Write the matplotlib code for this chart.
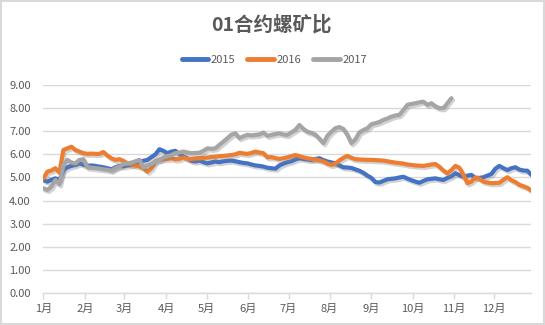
import matplotlib
matplotlib.use("Agg")
import matplotlib.pyplot as plt
import matplotlib.patheffects as pe

plt.rcParams['font.family'] = ['Noto Sans CJK SC', 'DejaVu Sans']

title = "01合约螺矿比"
series_names = ["2015", "2016", "2017"]
month_labels = ["1月", "2月", "3月", "4月", "5月", "6月", "7月", "8月", "9月", "10月", "11月", "12月"]
# month starts, in units of sampled trading points
month_pos = [0, 10.45, 20.25, 30.68, 40.85, 51.1, 61.28, 71.53, 81.95, 92.3, 102.55, 112.73]
x_end = 121.85

ratio_2015 = [
    4.89, 4.82, 4.90, 4.96, 4.89, 5.32, 5.44, 5.50, 5.54, 5.61,
    5.55, 5.50, 5.52, 5.50, 5.47, 5.44, 5.40, 5.35, 5.44, 5.50,
    5.48, 5.52, 5.54, 5.58, 5.69, 5.72, 5.76, 5.88, 6.00, 6.22,
    6.15, 6.05, 6.12, 6.15, 6.02, 5.90, 5.83, 5.72, 5.69, 5.73,
    5.66, 5.61, 5.65, 5.69, 5.66, 5.70, 5.72, 5.73, 5.70, 5.66,
    5.63, 5.61, 5.56, 5.52, 5.50, 5.47, 5.42, 5.40, 5.38, 5.52,
    5.60, 5.66, 5.70, 5.78, 5.83, 5.80, 5.78, 5.76, 5.80, 5.83,
    5.75, 5.69, 5.65, 5.61, 5.52, 5.44, 5.43, 5.41, 5.35, 5.29,
    5.20, 5.08, 4.98, 4.80, 4.78, 4.85, 4.92, 4.94, 4.96, 5.00,
    5.03, 4.95, 4.88, 4.82, 4.77, 4.85, 4.92, 4.94, 4.96, 4.92,
    4.89, 4.98, 5.05, 5.18, 5.10, 5.03, 5.08, 5.11, 4.98, 4.98,
    5.01, 5.08, 5.15, 5.38, 5.50, 5.40, 5.32, 5.40, 5.44, 5.34,
    5.30, 5.29, 5.11,
]

ratio_2016 = [
    4.96, 5.25, 5.30, 5.40, 5.21, 6.19, 6.26, 6.33, 6.19, 6.12,
    6.05, 6.02, 6.03, 6.02, 6.02, 6.10, 5.95, 5.83, 5.76, 5.79,
    5.72, 5.61, 5.55, 5.52, 5.47, 5.40, 5.25, 5.40, 5.70, 5.76,
    5.79, 5.80, 5.83, 5.78, 5.80, 5.87, 5.80, 5.79, 5.82, 5.83,
    5.85, 5.86, 5.88, 5.90, 5.92, 5.93, 5.95, 5.97, 6.00, 6.07,
    6.04, 6.02, 6.06, 6.12, 6.08, 6.05, 5.87, 5.88, 5.84, 5.80,
    5.83, 5.87, 5.92, 5.97, 5.92, 5.87, 5.83, 5.80, 5.78, 5.74,
    5.69, 5.60, 5.54, 5.60, 5.74, 5.85, 5.93, 5.85, 5.79, 5.78,
    5.77, 5.76, 5.76, 5.75, 5.74, 5.73, 5.70, 5.67, 5.64, 5.62,
    5.60, 5.56, 5.54, 5.52, 5.51, 5.50, 5.53, 5.56, 5.58, 5.46,
    5.30, 5.18, 5.32, 5.50, 5.42, 5.11, 4.75, 4.82, 5.00, 4.95,
    4.82, 4.78, 4.75, 4.76, 4.77, 4.90, 5.01, 4.88, 4.80, 4.68,
    4.62, 4.55, 4.43,
]

ratio_2017 = [
    4.53, 4.46, 4.60, 4.89, 4.70, 5.54, 5.76, 5.65, 5.61, 5.76,
    5.79, 5.44, 5.42, 5.40, 5.38, 5.35, 5.33, 5.29, 5.40, 5.47,
    5.58, 5.61, 5.64, 5.70, 5.76, 5.44, 5.52, 5.58, 5.70, 5.76,
    5.87, 5.92, 5.97, 6.05, 6.08, 6.12, 6.08, 6.05, 6.06, 6.07,
    6.15, 6.26, 6.24, 6.26, 6.41, 6.55, 6.70, 6.85, 6.91, 6.70,
    6.78, 6.84, 6.82, 6.84, 6.86, 6.94, 6.80, 6.84, 6.88, 6.91,
    6.86, 6.84, 6.95, 7.06, 7.27, 7.10, 6.98, 6.93, 6.85, 6.68,
    6.48, 6.80, 6.98, 7.13, 7.18, 7.10, 6.84, 6.48, 6.65, 6.95,
    7.05, 7.13, 7.30, 7.35, 7.40, 7.49, 7.55, 7.63, 7.68, 7.71,
    7.92, 8.14, 8.18, 8.21, 8.25, 8.28, 8.14, 8.21, 8.08, 8.00,
    8.00, 8.21, 8.43,
]

colors = ["#4472C4", "#ED7D31", "#A5A5A5"]
text_color = "#595959"
grid_color = "#D9D9D9"

fig = plt.figure(figsize=(5.45, 3.25), dpi=100)
fig.patch.set_facecolor("white")
fig.patch.set_edgecolor(grid_color)
fig.patch.set_linewidth(1.5)

ax = fig.add_axes([43.4 / 545, 1 - 293 / 325, (530.8 - 43.4) / 545, (293 - 85) / 325])

shadow = [pe.SimpleLineShadow(offset=(1.2, -1.5), shadow_color="#7f7f7f", alpha=0.35),
          pe.Normal()]

for name, vals, c in zip(series_names, [ratio_2015, ratio_2016, ratio_2017], colors):
    ax.plot(range(len(vals)), vals, color=c, lw=3.0, label=name,
            solid_joinstyle="round", solid_capstyle="round", path_effects=shadow)

ax.set_xlim(0, x_end)
ax.set_ylim(0, 9)
ax.set_yticks([i for i in range(10)])
ax.set_yticklabels([f"{i:.2f}" for i in range(10)])
ax.set_xticks(month_pos)
ax.set_xticklabels(month_labels)

ax.grid(axis="y", color=grid_color, lw=1)
ax.set_axisbelow(True)
for s in ["top", "right", "left"]:
    ax.spines[s].set_visible(False)
ax.spines["bottom"].set_color(grid_color)
ax.spines["bottom"].set_linewidth(1)

ax.tick_params(axis="y", length=0, pad=9, labelsize=8, labelcolor=text_color)
ax.tick_params(axis="x", length=4, width=1, color=grid_color, direction="out",
               pad=4, labelsize=8, labelcolor=text_color)

fig.text(0.498, 0.925, title, ha="center", va="center", fontsize=14,
         fontweight="bold", color=text_color)

leg = fig.legend(loc="center", bbox_to_anchor=(0.503, 0.815), ncol=3, frameon=False,
                 fontsize=8, handlelength=2.4, handletextpad=0.2, columnspacing=1.1)
for t in leg.get_texts():
    t.set_color(text_color)
for h in leg.get_lines():
    h.set_linewidth(3.5)
    h.set_path_effects([])

fig.savefig("out.png", dpi=100, facecolor=fig.get_facecolor(), edgecolor=fig.get_edgecolor())
